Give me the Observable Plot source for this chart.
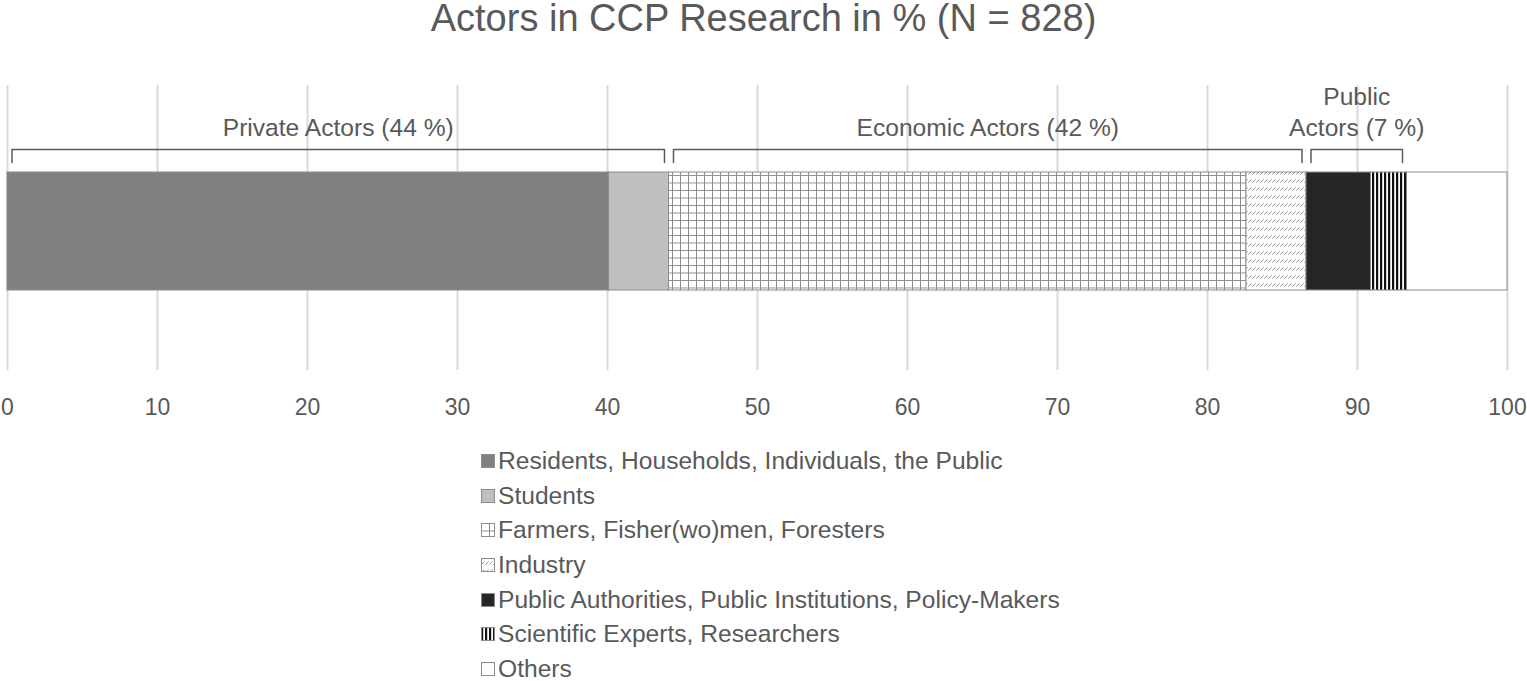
<!DOCTYPE html>
<html>
<head>
<meta charset="utf-8">
<script src="https://cdn.jsdelivr.net/npm/d3@7"></script>
<script src="https://cdn.jsdelivr.net/npm/@observablehq/plot@0.6"></script>
<style>
  body { margin: 0; background: #fff; font-family: "Liberation Sans", Arial, sans-serif; color: #595959; }
  #title { height: 40px; line-height: 36px; font-size: 38px; text-align: center; white-space: nowrap; }
  #legend { margin-top: 4px; }
  .row { display: flex; align-items: center; height: 34.6px; padding-left: 481px; font-size: 24.6px; white-space: nowrap; }
  .row svg { margin-right: 3px; flex: none; }
</style>
</head>
<body>
<svg width="0" height="0" style="position:absolute">
  <defs>
    <pattern id="pGrid" patternUnits="userSpaceOnUse" width="8" height="7.5">
      <rect width="8" height="7.5" fill="#ffffff"/>
      <path d="M0.5,0 V7.5 M0,0.5 H8" stroke="#8a8a8a" stroke-width="1" fill="none"/>
    </pattern>
    <pattern id="pHatch" patternUnits="userSpaceOnUse" width="4" height="8">
      <rect width="4" height="8" fill="#ffffff"/>
      <path d="M0.3,6.7 L3.7,3.3" stroke="#9a9a9a" stroke-width="1" fill="none"/>
    </pattern>
    <pattern id="pStripe" patternUnits="userSpaceOnUse" width="4" height="4">
      <rect width="4" height="4" fill="#ffffff"/>
      <rect x="0" width="2.2" height="4" fill="#111111"/>
    </pattern>
  </defs>
</svg>
<div id="title">Actors in CCP Research in % (N = 828)</div>
<div id="chart"></div>
<div id="legend"></div>
<script>
// ---- data ----
const categories = [
  "Residents, Households, Individuals, the Public",
  "Students",
  "Farmers, Fisher(wo)men, Foresters",
  "Industry",
  "Public Authorities, Public Institutions, Policy-Makers",
  "Scientific Experts, Researchers",
  "Others"
];
const values = [40.1, 4.0, 38.5, 4.0, 4.3, 2.4, 6.7];
const groupNames = ["Private Actors (44 %)", "Economic Actors (42 %)", "Public\nActors (7 %)"];
const groupOf = [0, 0, 1, 1, 2, 2, null];
const xTicks = [0, 10, 20, 30, 40, 50, 60, 70, 80, 90, 100];

// ---- styles ----
const fills = ["#808080", "#bfbfbf", "url(#pGrid)", "url(#pHatch)", "#262626", "url(#pStripe)", "#ffffff"];
const textColor = "#595959";

// ---- derived table ----
const ends = d3.cumsum(values);
const segments = categories.map((c, i) => ({category: c, start: ends[i] - values[i], end: ends[i]}));

const inset = 0.3;
const groups = groupNames.map((name, g) => {
  const members = segments.filter((s, i) => groupOf[i] === g);
  return {name, x1: d3.min(members, d => d.start) + inset, x2: d3.max(members, d => d.end) - inset};
});
const yBase = 1.085, yTop = 1.195;
const bracketPts = groups.flatMap(g => [
  {g: g.name, x: g.x1, y: yBase},
  {g: g.name, x: g.x1, y: yTop},
  {g: g.name, x: g.x2, y: yTop},
  {g: g.name, x: g.x2, y: yBase}
]);

const chart = Plot.plot({
  width: 1527,
  height: 400,
  marginLeft: 7,
  marginRight: 20,
  marginTop: 45,
  marginBottom: 70,
  style: {fontFamily: '"Liberation Sans", Arial, sans-serif', fontSize: "23px", color: textColor, background: "white"},
  x: {domain: [0, 100], axis: null},
  y: {domain: [0, 1], range: [250, 132], axis: null},
  color: {domain: categories, range: fills},
  marks: [
    Plot.ruleX(xTicks, {stroke: "#d9d9d9", strokeWidth: 2}),
    Plot.rect(segments, {x1: "start", x2: "end", y1: () => 0, y2: () => 1, fill: "category", stroke: "#8c8c8c", strokeWidth: 1}),
    Plot.line(bracketPts, {x: "x", y: "y", z: "g", stroke: textColor, strokeWidth: 1.5, strokeLinejoin: "round"}),
    Plot.text(groups, {x: d => (d.x1 + d.x2) / 2, y: () => yTop, text: "name", lineAnchor: "bottom", lineHeight: 1.27, dy: -13, fontSize: 24.6, fill: textColor}),
    Plot.axisX({ticks: xTicks, tickSize: 0, tickPadding: 28, tickFormat: d => String(d)})
  ]
});
document.getElementById("chart").appendChild(chart);

// ---- legend ----
const legend = document.getElementById("legend");
categories.forEach((c, i) => {
  const row = document.createElement("div");
  row.className = "row";
  const ns = "http://www.w3.org/2000/svg";
  const sw = document.createElementNS(ns, "svg");
  sw.setAttribute("width", 14);
  sw.setAttribute("height", 14);
  const r = document.createElementNS(ns, "rect");
  r.setAttribute("x", 0.5); r.setAttribute("y", 0.5);
  r.setAttribute("width", 13); r.setAttribute("height", 13);
  r.setAttribute("fill", fills[i]);
  r.setAttribute("stroke", "#8c8c8c");
  sw.appendChild(r);
  row.appendChild(sw);
  const t = document.createElement("span");
  t.textContent = c;
  row.appendChild(t);
  legend.appendChild(row);
});
</script>
</body>
</html>
